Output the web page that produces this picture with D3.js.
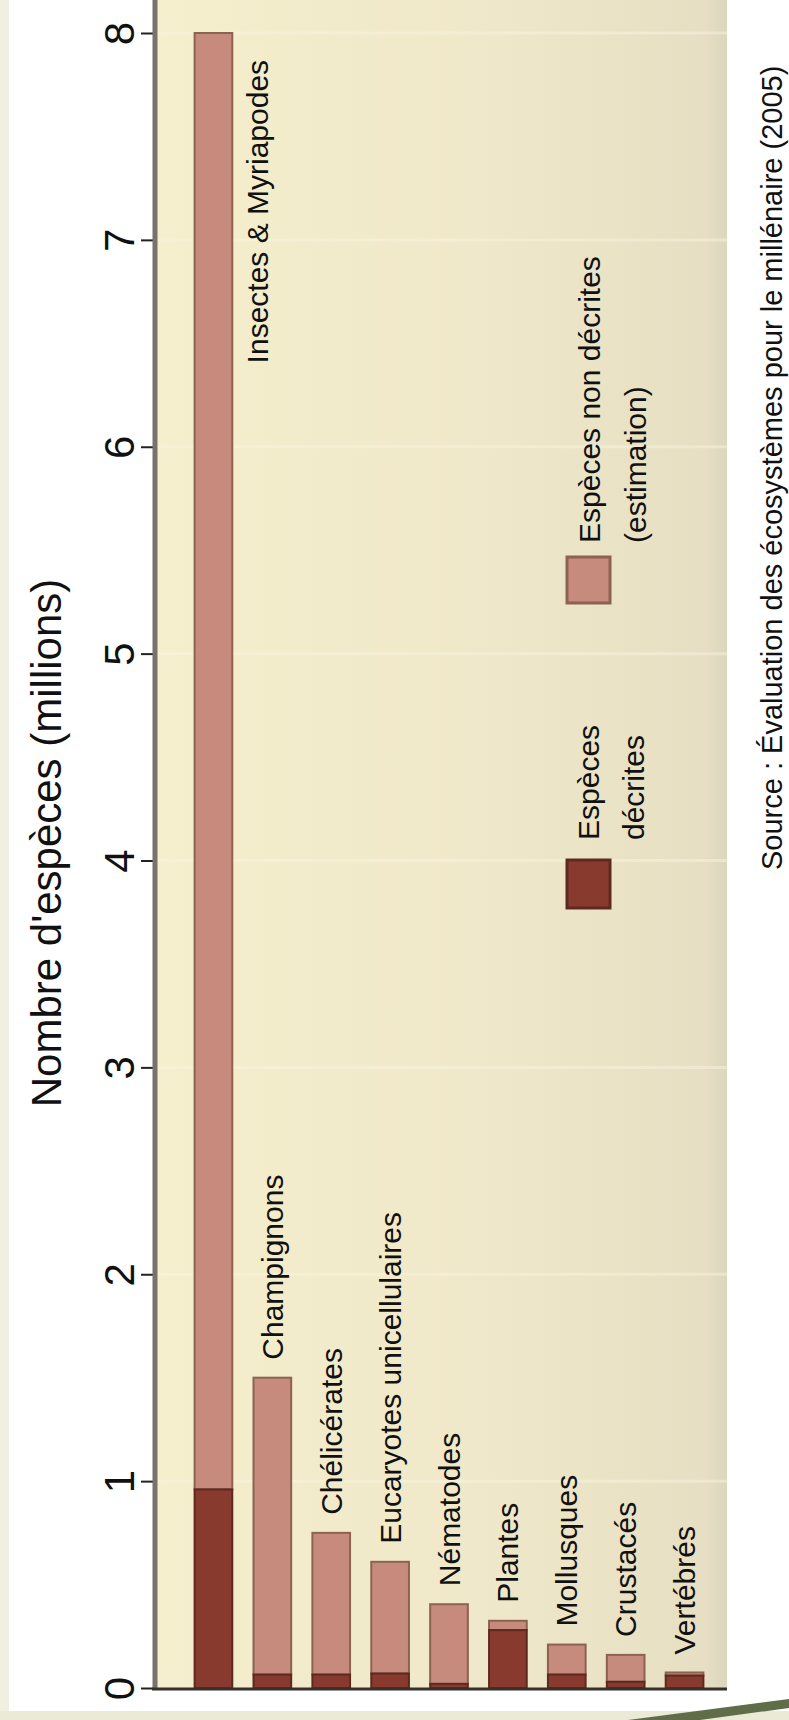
<!DOCTYPE html>
<html>
<head>
<meta charset="utf-8">
<script src="https://cdn.jsdelivr.net/npm/d3@7/dist/d3.min.js"></script>
<style>
  html, body { margin: 0; padding: 0; background: #fff; }
  svg { display: block; font-family: "Liberation Sans", Arial, sans-serif; }
</style>
</head>
<body>
<svg id="chart" width="789" height="1720"></svg>
<script>
// values in millions of species
const categories = ["Insectes & Myriapodes", "Champignons", "Chélicérates", "Eucaryotes unicellulaires",
    "Nématodes", "Plantes", "Mollusques", "Crustacés", "Vertébrés"];
const described = [0.96, 0.065, 0.065, 0.07, 0.02, 0.28, 0.065, 0.03, 0.06];
const undescribed = [7.04, 1.435, 0.685, 0.54, 0.385, 0.045, 0.145, 0.13, 0.015];
const yTicks = [0, 1, 2, 3, 4, 5, 6, 7, 8];
const legendItems = [
    {key: "described", lines: ["Espèces", "décrites"]},
    {key: "undescribed", lines: ["Espèces non décrites", "(estimation)"]}
];
const titleText = "Nombre d'espèces (millions)";
const sourceText = "Source : Évaluation des écosystèmes pour le millénaire (2005)";

const colors = {
    described: "#873a2d", describedEdge: "#5e2a20",
    undescribed: "#c78b7e", undescribedEdge: "#8c6350"
};

const svg = d3.select("#chart");
const W = 789, H = 1720;
const plot = {left: 157, right: 727, top: 0, bottom: 1688};

// page background bits
svg.append("rect").attr("width", W).attr("height", H).attr("fill", "#fff");
svg.append("rect").attr("x", 0).attr("y", 0).attr("width", 9).attr("height", H).attr("fill", "#f1efdf");
svg.append("rect").attr("x", 0).attr("y", 1711).attr("width", W).attr("height", 9).attr("fill", "#ebead6");
svg.append("path")
    .attr("d", "M628,1720 L789,1699 L789,1708 L700,1720 Z")
    .attr("fill", "#5f6e48");

// plot area
const bgGrad = svg.append("defs").append("linearGradient")
    .attr("id", "bg").attr("x1", 0).attr("x2", 1).attr("y1", 0).attr("y2", 0);
bgGrad.append("stop").attr("offset", "0%").attr("stop-color", "#f5efcd");
bgGrad.append("stop").attr("offset", "60%").attr("stop-color", "#efe7c9");
bgGrad.append("stop").attr("offset", "96%").attr("stop-color", "#e6dfc3");
bgGrad.append("stop").attr("offset", "100%").attr("stop-color", "#dcd6be");
svg.append("rect")
    .attr("x", plot.left).attr("y", plot.top)
    .attr("width", plot.right - plot.left).attr("height", plot.bottom - plot.top)
    .attr("fill", "url(#bg)");

const y = d3.scaleLinear().domain([0, 8]).range([1688, 33]);
const x = d3.scaleBand().domain(categories).range([184, 714]).paddingInner(0.36).paddingOuter(0.18);

// faint grid lines
svg.append("g").selectAll("line")
    .data(yTicks.slice(1))
    .join("line")
    .attr("x1", plot.left).attr("x2", plot.right)
    .attr("y1", d => y(d)).attr("y2", d => y(d))
    .attr("stroke", "#faf6e2").attr("stroke-width", 3).attr("opacity", 0.45);

// bars
const rows = categories.map((c, i) => ({
    name: c, described: described[i], undescribed: undescribed[i],
    total: described[i] + undescribed[i]
}));

const bars = svg.append("g").selectAll("g").data(rows).join("g");
bars.append("rect")
    .attr("x", d => x(d.name))
    .attr("y", d => y(d.total))
    .attr("width", x.bandwidth())
    .attr("height", d => y(d.described) - y(d.total))
    .attr("fill", colors.undescribed)
    .attr("stroke", colors.undescribedEdge)
    .attr("stroke-width", 2);
bars.append("rect")
    .attr("x", d => x(d.name))
    .attr("y", d => y(d.described))
    .attr("width", x.bandwidth())
    .attr("height", d => y(0) - y(d.described))
    .attr("fill", colors.described)
    .attr("stroke", colors.describedEdge)
    .attr("stroke-width", 2);

// category labels, rotated, above each bar (beside it when the bar is too tall)
bars.append("text")
    .attr("transform", d => {
        if (d.total > 7) return `translate(${x(d.name) + x.bandwidth() + 25},${y(7.87)}) rotate(-90)`;
        return `translate(${x(d.name) + x.bandwidth() / 2},${y(d.total) - 18}) rotate(-90)`;
    })
    .attr("text-anchor", d => d.total > 7 ? "end" : "start")
    .attr("dy", "0.35em")
    .attr("font-size", 30)
    .attr("fill", "#111")
    .text(d => d.name);

// axes
const yAxis = d3.axisLeft(y).tickValues(yTicks).tickSize(12).tickPadding(0);
const gY = svg.append("g").attr("transform", "translate(153,0)").call(yAxis);
gY.select(".domain").remove();
gY.selectAll(".tick line").attr("stroke", "#222").attr("stroke-width", 2);
gY.selectAll(".tick text")
    .attr("x", null).attr("dy", null)
    .attr("transform", "translate(-19,0) rotate(-90)")
    .attr("text-anchor", "middle")
    .attr("font-size", 42)
    .attr("font-family", "'Liberation Sans', Arial, sans-serif")
    .attr("fill", "#111");

svg.append("line")
    .attr("x1", 155).attr("x2", 155).attr("y1", 0).attr("y2", 1690)
    .attr("stroke", "#77726a").attr("stroke-width", 5);
svg.append("line")
    .attr("x1", 152).attr("x2", plot.right).attr("y1", 1689).attr("y2", 1689)
    .attr("stroke", "#35302b").attr("stroke-width", 3);

// title
svg.append("text")
    .attr("transform", "translate(61,843) rotate(-90)")
    .attr("text-anchor", "middle")
    .attr("font-size", 42)
    .attr("fill", "#111")
    .text(titleText);

// legend
const legendPos = [
    {sq: [567, 860, 43, 48], textY: 840, lineX: [599, 644]},
    {sq: [567, 557, 43, 46], textY: 543, lineX: [600, 646]}
];
legendItems.forEach((item, i) => {
    const p = legendPos[i];
    svg.append("rect")
        .attr("x", p.sq[0]).attr("y", p.sq[1]).attr("width", p.sq[2]).attr("height", p.sq[3])
        .attr("fill", colors[item.key])
        .attr("stroke", colors[item.key + "Edge"]).attr("stroke-width", 3);
    item.lines.forEach((line, j) => {
        svg.append("text")
            .attr("transform", `translate(${p.lineX[j]},${p.textY}) rotate(-90)`)
            .attr("font-size", 30)
            .attr("fill", "#111")
            .text(line);
    });
});

// source
svg.append("text")
    .attr("transform", "translate(782,870) rotate(-90)")
    .attr("font-size", 29)
    .attr("fill", "#111")
    .text(sourceText);
</script>
</body>
</html>
